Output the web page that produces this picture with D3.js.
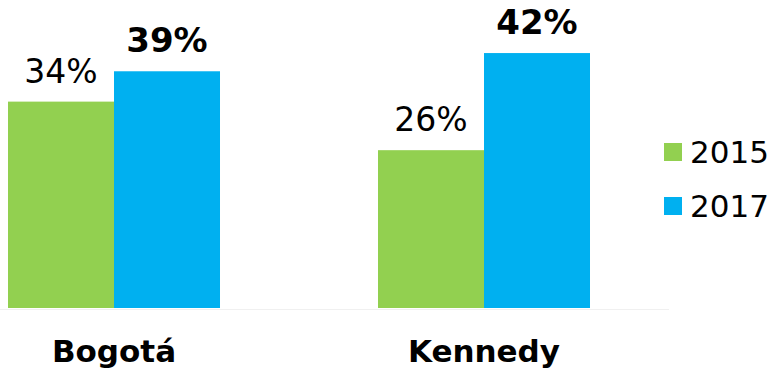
<!DOCTYPE html>
<html>
<head>
<meta charset="utf-8">
<script src="https://cdn.jsdelivr.net/npm/d3@7/dist/d3.min.js"></script>
<style>
html,body{margin:0;padding:0;background:#fff;}
svg{display:block;}
text{font-family:Verdana,"DejaVu Sans",sans-serif;fill:#000;}
</style>
</head>
<body>
<svg id="chart" width="775" height="373"></svg>
<script>
const categories = ["Bogotá", "Kennedy"];
const seriesNames = ["2015", "2017"];
const values2015 = [34, 26];
const values2017 = [39, 42];
const colors = ["#92D050", "#00B0F0"];

const svg = d3.select("#chart");
const baseY = 308;

const x = d3.scaleBand().domain(categories).range([-71, 669]).paddingInner(0.427).paddingOuter(0.2135);
const xs = d3.scaleBand().domain(seriesNames).range([0, x.bandwidth()]);
const y = d3.scaleLinear().domain([0, 50]).range([baseY, baseY - 6.07 * 50]);

const data = [];
categories.forEach((c, i) => {
  data.push({cat: c, s: seriesNames[0], v: values2015[i], bold: false});
  data.push({cat: c, s: seriesNames[1], v: values2017[i], bold: true});
});

// baseline
svg.append("line")
  .attr("x1", 0).attr("x2", 669)
  .attr("y1", baseY + 1.5).attr("y2", baseY + 1.5)
  .attr("stroke", "#f0f0f0").attr("stroke-width", 1);

const g = svg.append("g");
g.selectAll("rect.bar").data(data).enter().append("rect")
  .attr("class", "bar")
  .attr("x", d => x(d.cat) + xs(d.s))
  .attr("width", xs.bandwidth())
  .attr("y", d => y(d.v))
  .attr("height", d => y(0) - y(d.v))
  .attr("fill", d => colors[seriesNames.indexOf(d.s)]);

g.selectAll("text.val").data(data).enter().append("text")
  .attr("class", "val")
  .attr("x", d => x(d.cat) + xs(d.s) + xs.bandwidth() / 2)
  .attr("y", d => y(d.v) - 19)
  .attr("text-anchor", "middle")
  .attr("font-size", d => d.bold ? 34 : 33)
  .attr("font-weight", d => d.bold ? "bold" : "normal")
  .text(d => d.v + "%");

// category labels
svg.selectAll("text.cat").data(categories).enter().append("text")
  .attr("class", "cat")
  .attr("x", d => x(d) + x.bandwidth() / 2)
  .attr("y", 362)
  .attr("text-anchor", "middle")
  .attr("font-size", 31)
  .attr("font-weight", "bold")
  .text(d => d);

// legend
const leg = svg.selectAll("g.leg").data(seriesNames).enter().append("g")
  .attr("class", "leg")
  .attr("transform", (d, i) => `translate(664, ${143 + i * 54})`);
leg.append("rect").attr("width", 18).attr("height", 18).attr("fill", (d, i) => colors[i]);
leg.append("text").attr("x", 26).attr("y", 20).attr("font-size", 31).text(d => d);
</script>
</body>
</html>
